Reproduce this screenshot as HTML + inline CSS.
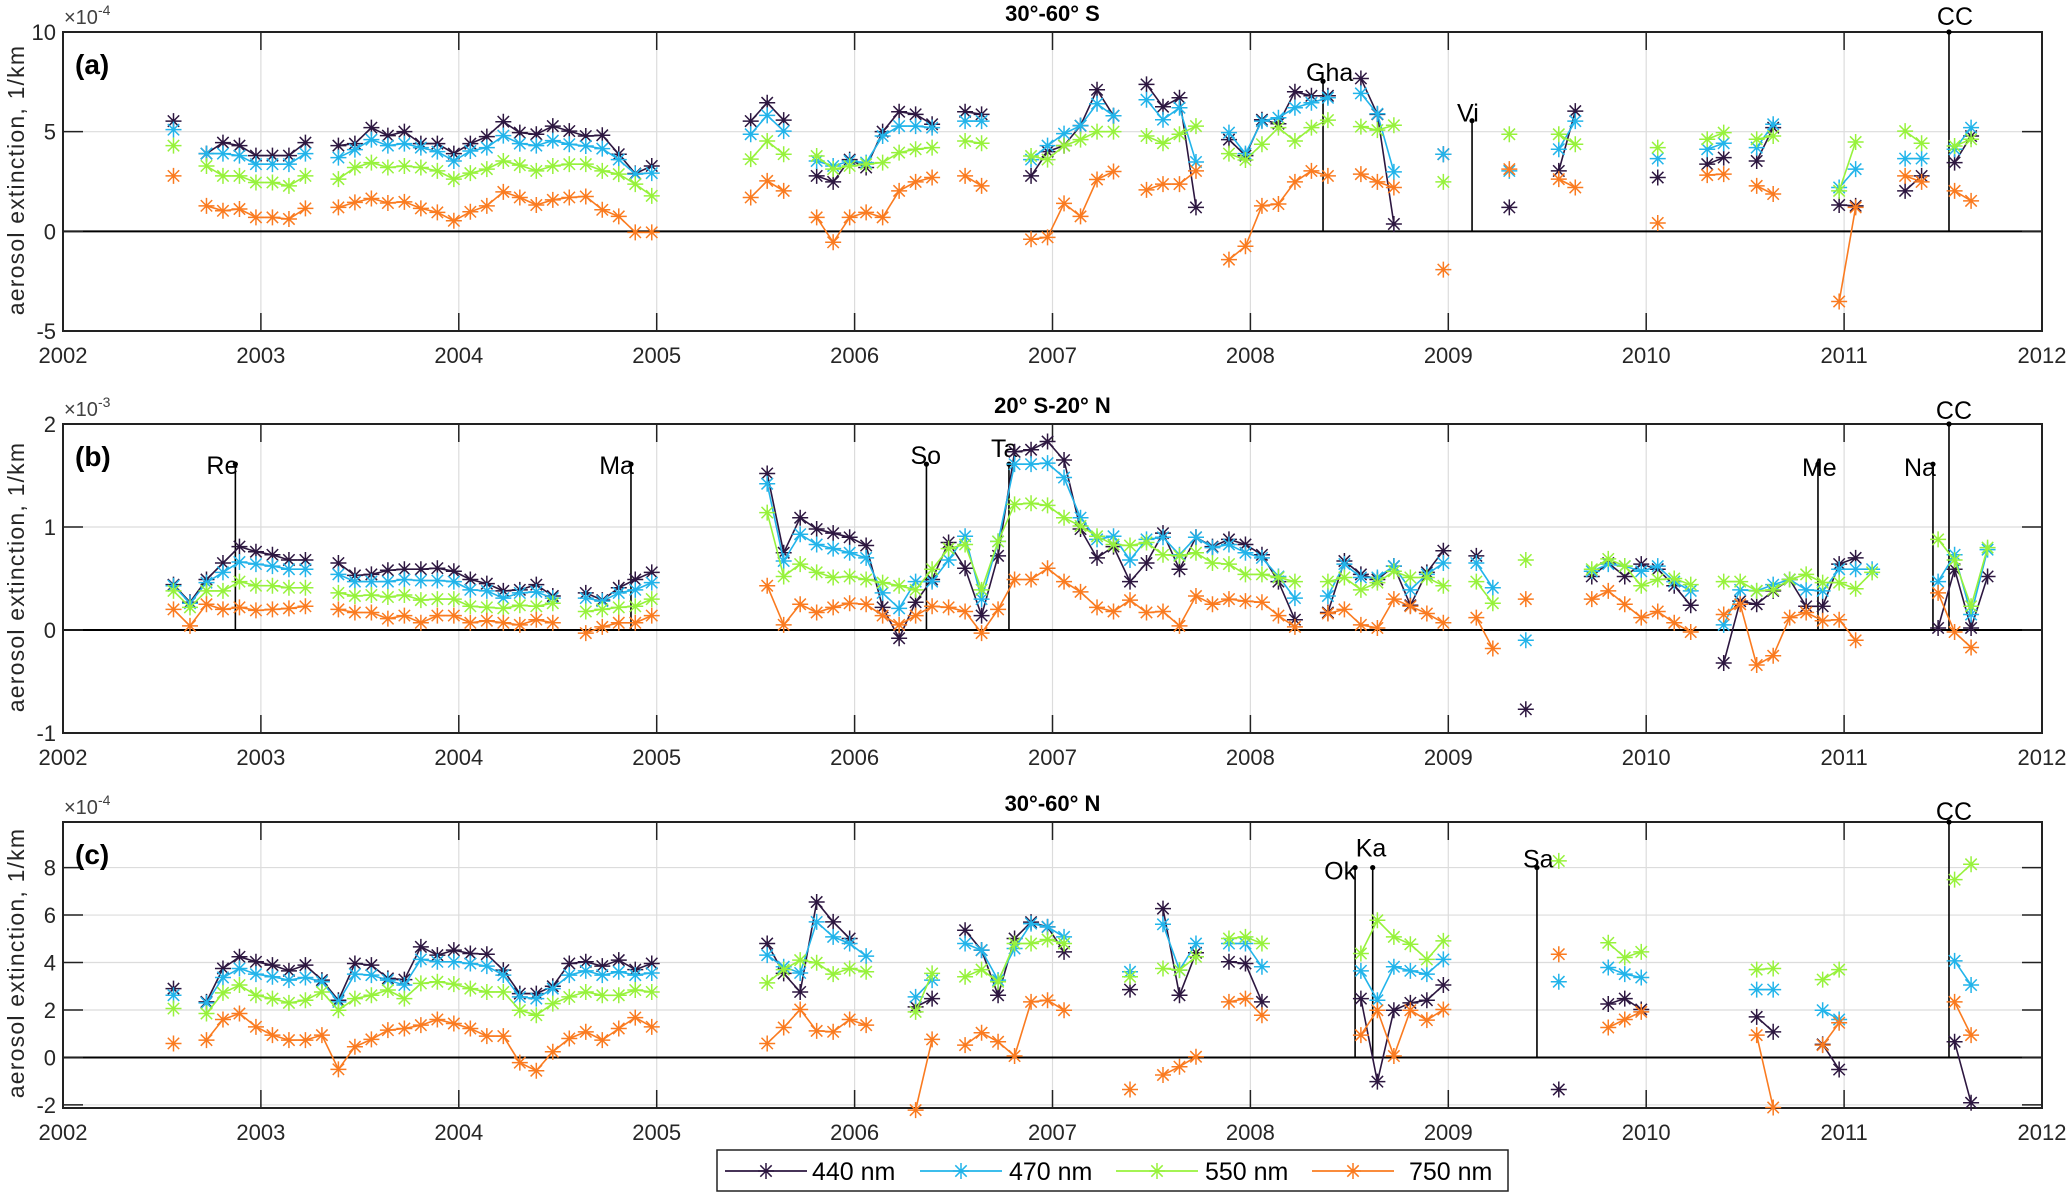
<!DOCTYPE html>
<html><head><meta charset="utf-8"><style>
html,body{margin:0;padding:0;background:#fff;}
svg{display:block;font-family:"Liberation Sans",Arial,sans-serif;}
</style></head><body>
<svg id="chart" xmlns="http://www.w3.org/2000/svg" width="2067" height="1192" viewBox="0 0 2067 1192">
<rect x="0" y="0" width="2067" height="1192" fill="#fff"/>
</svg>
<script>
// ---------- DATA ----------
const seriesNames = ["440 nm","470 nm","550 nm","750 nm"];
// month index k counted from Jan 2002 (k=0)
const monthsA = [6,8,9,10,11,12,13,14,16,17,18,19,20,21,22,23,24,25,26,27,28,29,30,31,32,33,34,35,41,42,43,45,46,47,48,49,50,51,52,54,55,58,59,60,61,62,63,65,66,67,68,70,71,72,73,74,75,76,78,79,80,83,87,90,91,96,99,100,102,103,107,108,111,112,114,115];
const a440 = [5.53,3.9,4.45,4.3,3.8,3.8,3.8,4.45,4.3,4.4,5.2,4.8,5.0,4.4,4.4,3.9,4.4,4.75,5.5,4.95,4.87,5.28,5.03,4.78,4.82,3.87,2.9,3.28,5.53,6.45,5.58,2.78,2.48,3.6,3.2,5.0,6.0,5.87,5.37,6.0,5.87,2.78,4.0,4.3,5.3,7.1,5.8,7.37,6.25,6.7,1.2,4.6,3.8,5.6,5.4,7.0,6.8,6.8,7.67,5.87,0.37,3.87,1.2,3.03,6.03,2.7,3.37,3.7,3.53,5.2,1.32,1.28,2.03,2.78,3.45,4.78];
const a470 = [5.1,3.9,3.9,3.8,3.37,3.37,3.37,3.9,3.7,4.1,4.6,4.3,4.4,4.2,4.0,3.53,4.03,4.2,4.8,4.4,4.3,4.55,4.37,4.28,4.15,3.6,2.87,2.92,4.87,5.82,5.03,3.53,3.28,3.53,3.45,4.78,5.28,5.28,5.2,5.53,5.53,3.6,4.3,4.9,5.3,6.4,5.8,6.6,5.6,6.2,3.48,4.95,3.9,5.53,5.7,6.2,6.45,6.7,6.92,5.9,2.98,3.87,3.03,4.12,5.53,3.65,4.12,4.42,4.2,5.37,2.2,3.12,3.65,3.65,4.12,5.2];
const a550 = [4.3,3.28,2.78,2.78,2.45,2.45,2.28,2.78,2.62,3.2,3.45,3.2,3.28,3.2,3.03,2.62,2.92,3.12,3.53,3.32,3.03,3.28,3.37,3.37,3.03,2.87,2.37,1.78,3.62,4.53,3.87,3.78,3.12,3.28,3.37,3.45,3.95,4.12,4.2,4.53,4.42,3.78,3.6,4.3,4.6,5.0,5.0,4.78,4.42,4.87,5.28,3.9,3.58,4.37,5.2,4.53,5.2,5.58,5.25,5.08,5.32,2.48,4.87,4.87,4.37,4.2,4.62,4.95,4.62,4.78,2.03,4.48,5.03,4.42,4.28,4.62];
const a750 = [2.78,1.28,1.03,1.12,0.7,0.7,0.62,1.15,1.2,1.45,1.65,1.42,1.48,1.15,0.95,0.53,0.98,1.28,1.98,1.7,1.32,1.58,1.7,1.75,1.08,0.75,-0.05,-0.05,1.7,2.53,2.03,0.7,-0.55,0.7,0.95,0.7,2.03,2.48,2.7,2.78,2.28,-0.4,-0.3,1.4,0.75,2.6,3.0,2.08,2.37,2.37,3.03,-1.42,-0.75,1.28,1.37,2.48,3.03,2.78,2.87,2.48,2.2,-1.92,3.12,2.62,2.2,0.42,2.82,2.87,2.28,1.87,-3.52,1.2,2.78,2.48,2.03,1.53];

const monthsB = [6,7,8,9,10,11,12,13,14,16,17,18,19,20,21,22,23,24,25,26,27,28,29,31,32,33,34,35,42,43,44,45,46,47,48,49,50,51,52,53,54,55,56,57,58,59,60,61,62,63,64,65,66,67,68,69,70,71,72,73,74,76,77,78,79,80,81,82,83,85,86,88,92,93,94,95,96,97,98,100,101,102,103,104,105,106,107,108,109,113,114,115,116];
const b440 = [.44,.27,.49,.65,.81,.76,.73,.68,.68,.65,.53,.54,.58,.59,.59,.6,.57,.49,.45,.38,.39,.44,.33,.36,.29,.41,.49,.56,1.52,.75,1.09,.98,.94,.9,.82,.22,-.08,.27,.49,.85,.6,.14,.72,1.73,1.75,1.83,1.65,.98,.7,.81,.47,.65,.94,.59,.9,.81,.88,.83,.73,.47,.1,.17,.67,.54,.49,.62,.24,.56,.77,.72,null,-.77,.52,.65,.52,.64,.59,.43,.24,-.32,.28,.25,.38,.49,.23,.23,.64,.7,null,.02,.59,.02,.52];
const b470 = [.43,.26,.46,.56,.66,.64,.62,.59,.59,.54,.47,.47,.47,.49,.48,.48,.47,.39,.38,.31,.36,.37,.31,.31,.28,.36,.39,.46,1.42,.67,.93,.83,.79,.75,.7,.36,.21,.47,.47,.68,.91,.3,.86,1.61,1.61,1.62,1.48,1.09,.88,.91,.68,.88,.9,.73,.9,.8,.83,.75,.7,.52,.31,.33,.64,.51,.51,.62,.39,.54,.65,.65,.41,-.1,.57,.64,.62,.57,.62,.47,.38,.05,.39,.38,.44,.49,.39,.38,.59,.59,.59,.47,.73,.15,.78];
const b550 = [.38,.22,.38,.38,.47,.43,.43,.41,.41,.36,.33,.34,.32,.34,.29,.3,.3,.23,.22,.21,.24,.23,.26,.18,.2,.22,.23,.3,1.14,.52,.64,.56,.51,.52,.49,.46,.43,.39,.59,.79,.83,.39,.86,1.22,1.23,1.21,1.09,1.01,.91,.83,.82,.85,.73,.72,.75,.65,.64,.54,.54,.51,.47,.47,.51,.39,.46,.57,.51,.51,.43,.47,.26,.68,.59,.69,.62,.43,.49,.5,.44,.47,.47,.38,.39,.49,.54,.46,.46,.4,.56,.88,.68,.23,.8];
const b750 = [.2,.04,.25,.2,.22,.19,.2,.21,.23,.2,.17,.17,.11,.14,.07,.14,.14,.07,.09,.07,.05,.1,.07,-.03,.03,.07,.07,.14,.43,.05,.25,.17,.22,.26,.25,.14,.05,.14,.23,.22,.18,-.03,.2,.49,.49,.6,.47,.37,.22,.18,.29,.17,.18,.04,.33,.25,.3,.28,.27,.14,.03,.16,.2,.05,.02,.3,.23,.16,.07,.12,-.18,.3,.3,.38,.25,.12,.18,.07,-.02,.15,.25,-.34,-.25,.12,.17,.09,.1,-.1,null,.36,-.02,-.17,null];

const monthsC = [6,8,9,10,11,12,13,14,15,16,17,18,19,20,21,22,23,24,25,26,27,28,29,30,31,32,33,34,35,42,43,44,45,46,47,48,51,52,54,55,56,57,58,59,60,64,66,67,68,70,71,72,78,79,80,81,82,83,90,93,94,95,102,103,106,107,114,115];
const c440 = [2.9,2.34,3.75,4.24,4.03,3.89,3.65,3.89,3.26,2.41,3.96,3.89,3.33,3.28,4.66,4.31,4.52,4.38,4.35,3.68,2.69,2.69,3.0,3.96,4.03,3.85,4.1,3.7,3.96,4.8,3.54,2.76,6.55,5.71,5.01,null,2.13,2.48,5.36,4.52,2.62,5.01,5.7,5.5,4.45,2.86,6.27,2.62,4.41,4.03,3.96,2.34,2.48,-1.02,1.99,2.3,2.41,3.05,-1.35,2.25,2.48,2.02,1.71,1.08,0.55,-0.51,0.66,-1.91];
const c470 = [2.62,2.3,3.37,3.75,3.51,3.4,3.26,3.37,3.19,2.34,3.51,3.47,3.26,3.05,4.13,4.03,4.03,3.96,3.85,3.47,2.55,2.48,2.9,3.47,3.65,3.47,3.61,3.47,3.56,4.31,3.82,3.56,5.71,5.08,4.8,4.27,2.55,3.26,4.8,4.52,3.26,4.59,5.64,5.5,5.08,3.61,5.61,3.68,4.8,4.8,4.8,3.82,3.65,2.41,3.82,3.65,3.51,4.13,3.19,3.79,3.51,3.37,2.86,2.86,1.99,1.6,4.07,3.05];
const c550 = [2.06,1.85,2.72,3.05,2.62,2.48,2.3,2.41,2.76,1.99,2.48,2.62,2.84,2.48,3.12,3.19,3.09,2.9,2.76,2.76,1.99,1.78,2.27,2.55,2.76,2.62,2.62,2.84,2.76,3.14,3.7,4.1,3.99,3.51,3.75,3.61,1.92,3.54,3.4,3.7,3.19,4.8,4.8,4.97,4.8,3.4,3.75,3.68,4.24,5.01,5.08,4.8,4.38,5.78,5.08,4.77,4.13,4.91,8.28,4.83,4.21,4.45,3.7,3.75,3.28,3.7,7.49,8.14];
const c750 = [0.59,0.73,1.6,1.85,1.29,0.94,0.73,0.73,0.94,-0.5,0.45,0.76,1.15,1.22,1.36,1.6,1.43,1.22,0.9,0.9,-0.22,-0.56,0.24,0.8,1.08,0.73,1.22,1.68,1.29,0.59,1.26,2.02,1.12,1.08,1.6,1.36,-2.22,0.76,0.52,1.04,0.66,0.06,2.34,2.41,1.99,-1.35,-0.74,-0.39,0.03,2.34,2.48,1.78,0.94,1.99,0.06,1.99,1.57,2.02,4.35,1.26,1.6,1.92,0.94,-2.11,0.52,1.46,2.34,0.94];

const xTickLabels = ["2002","2003","2004","2005","2006","2007","2008","2009","2010","2011","2012"];
const yTicksA = [-5,0,5,10];
const yTicksB = [-1,0,1,2];
const yTicksC = [-2,0,2,4,6,8];

const eventNamesA = ["Gha","Vi","CC"];
const eventYearsA = [2008.367,2009.12,2011.53];
const eventTopsA = [7.53,5.55,10];
const eventNamesB = ["Re","Ma","So","Ta","Me","Na","CC"];
const eventYearsB = [2002.871,2004.87,2006.363,2006.78,2010.868,2011.449,2011.53];
const eventTopsB = [1.61,1.61,1.61,1.61,1.61,1.61,2];
const eventNamesC = ["Ok","Ka","Sa","CC"];
const eventYearsC = [2008.529,2008.618,2009.448,2011.53];
const eventTopsC = [8,8,8,9.92];

// ---------- STYLE / LAYOUT ----------
const colors = ["#2d1740","#22b4ea","#97f23c","#fa7b20"];
const NS = "http://www.w3.org/2000/svg";
const svg = document.getElementById("chart");
const L = 63, R = 2042;
function xScale(year){ return L + (year-2002)*(R-L)/10; }
function monthToYear(k){ return 2002 + (k+0.7)/12; }

function el(tag, attrs, parent){
  const e = document.createElementNS(NS, tag);
  for (const k in attrs) e.setAttribute(k, attrs[k]);
  (parent||svg).appendChild(e);
  return e;
}
function asterisk(g, x, y, color){
  const r = 8, d = 5.7;
  const p = `M${x},${y-r}L${x},${y+r}M${x-r},${y}L${x+r},${y}M${x-d},${y-d}L${x+d},${y+d}M${x-d},${y+d}L${x+d},${y-d}`;
  const m = el("path", {d:p, stroke:color, "stroke-width":1.5, fill:"none"}, g);
  
  
}

const panels = [
  {id:"a", T:32, B:331, ymin:-5, ymax:10, ticks:yTicksA, title:"30°-60° S", exp:"-4",
   months:monthsA, vals:[a440,a470,a550,a750], en:eventNamesA, ey:eventYearsA, et:eventTopsA,
   lab:[{a:"start",dx:-17,dy:0},{a:"start",dx:-15,dy:1},{a:"middle",dx:6,dy:-7}], yl:180},
  {id:"b", T:424, B:733, ymin:-1, ymax:2, ticks:yTicksB, title:"20° S-20° N", exp:"-3",
   months:monthsB, vals:[b440,b470,b550,b750], en:eventNamesB, ey:eventYearsB, et:eventTopsB,
   lab:[{a:"end",dx:3,dy:10},{a:"end",dx:3,dy:10},{a:"start",dx:-16,dy:0},{a:"start",dx:-18,dy:-7},{a:"start",dx:-16,dy:12},{a:"end",dx:3,dy:12},{a:"middle",dx:5,dy:-5}], yl:577},
  {id:"c", T:822, B:1108, ymin:-2.13, ymax:9.92, ticks:yTicksC, title:"30°-60° N", exp:"-4",
   months:monthsC, vals:[c440,c470,c550,c750], en:eventNamesC, ey:eventYearsC, et:eventTopsC,
   lab:[{a:"end",dx:1,dy:12},{a:"start",dx:-17,dy:-11},{a:"start",dx:-14,dy:0},{a:"middle",dx:5,dy:-2}], yl:963}
];

panels.forEach(P => {
  const yScale = v => P.B - (v-P.ymin)*(P.B-P.T)/(P.ymax-P.ymin);
  const g = el("g", {});
  
  

  // grid
  for (let i=1;i<10;i++){
    const x = xScale(2002+i);
    const gl = el("line",{x1:x,x2:x,y1:P.T,y2:P.B,stroke:"#dcdcdc","stroke-width":1.2},g);
    
    
  }
  P.ticks.forEach(t => {
    const y = yScale(t);
    if (t!==0 && y>P.T+1 && y<P.B-1){
      const gl = el("line",{x1:L,x2:R,y1:y,y2:y,stroke:"#dcdcdc","stroke-width":1.2},g);
      
      
    }
  });
  // zero line
  const z = el("line",{x1:L,x2:R,y1:yScale(0),y2:yScale(0),stroke:"#000","stroke-width":2},g);
  
  

  // ticks
  for (let i=0;i<=10;i++){
    const x = xScale(2002+i);
    const t1 = el("path",{d:`M${x},${P.T}L${x},${P.T+18}M${x},${P.B}L${x},${P.B-18}`,stroke:"#222","stroke-width":1.5},g);
    
    
    const tl = el("text",{x:x,y:P.B+32,"text-anchor":"middle","font-size":22,fill:"#262626"},g);
    tl.textContent = xTickLabels[i];
    
    
  }
  P.ticks.forEach(t => {
    const y = yScale(t);
    const t1 = el("path",{d:`M${L},${y}L${L+20},${y}M${R},${y}L${R-20},${y}`,stroke:"#222","stroke-width":1.5},g);
    
    
    const tl = el("text",{x:L-7,y:y+8,"text-anchor":"end","font-size":22,fill:"#262626"},g);
    tl.textContent = String(t);
    
    
  });
  // frame
  const fr = el("rect",{x:L,y:P.T,width:R-L,height:P.B-P.T,fill:"none",stroke:"#222","stroke-width":2},g);
  
  

  // exponent
  const ex = el("text",{x:L+1,y:P.T-8,"font-size":20,fill:"#404040"},g);
  
  
  ex.appendChild(document.createTextNode("×10"));
  const sup = el("tspan",{dy:-9,"font-size":14},ex);
  sup.textContent = P.exp;

  // title
  const ti = el("text",{x:(L+R)/2,y:P.T-11,"text-anchor":"middle","font-size":22,"font-weight":"bold",fill:"#000"},g);
  ti.textContent = P.title;
  
  
  // panel letter
  const pl = el("text",{x:75,y:P.T+42,"font-size":28,"font-weight":"bold",fill:"#000"},g);
  pl.textContent = "(" + P.id + ")";
  
  
  // y axis label
  const yl = el("text",{x:0,y:0,"text-anchor":"middle","font-size":23,"letter-spacing":"1.2",fill:"#262626",transform:`translate(24,${P.yl}) rotate(-90)`},g);
  yl.textContent = "aerosol extinction, 1/km";
  
  

  // events
  P.en.forEach((name,i) => {
    const x = xScale(P.ey[i]);
    const yt = yScale(P.et[i]);
    const ln = el("line",{x1:x,x2:x,y1:yScale(0),y2:yt,stroke:"#000","stroke-width":1.6},g);
    
    
    const dot = el("circle",{cx:x,cy:yt,r:2.6,fill:"#000"},g);
    
    
    const lb = P.lab[i];
    const tx = el("text",{x:x+lb.dx,y:yt+lb.dy,"text-anchor":lb.a,"font-size":25,fill:"#000"},g);
    tx.textContent = name;
    
    
  });

  // series
  P.vals.forEach((vals,s) => {
    const sg = el("g",{},g);
    
    
    let d = "";
    for (let i=0;i<vals.length;i++){
      if (vals[i]===null) continue;
      const x = xScale(monthToYear(P.months[i])), y = yScale(vals[i]);
      const connect = i>0 && vals[i-1]!==null && P.months[i]-P.months[i-1]===1;
      d += (connect?"L":"M") + x.toFixed(1) + "," + y.toFixed(1);
    }
    const pth = el("path",{d:d,stroke:colors[s],"stroke-width":1.6,fill:"none"},sg);
    
    
    for (let i=0;i<vals.length;i++){
      if (vals[i]===null) continue;
      asterisk(sg, xScale(monthToYear(P.months[i])), yScale(vals[i]), colors[s]);
    }
  });
});

// legend
const lg = el("g",{});


const lbox = el("rect",{x:717,y:1150,width:791,height:41,fill:"#fff",stroke:"#222","stroke-width":1.5},lg);


const legLineX = [725,920,1116,1312];
const legTextX = [812,1009,1205,1409];
seriesNames.forEach((n,s) => {
  const eg = el("g",{},lg);
  
  
  const ly = 1171;
  const ln = el("line",{x1:legLineX[s],x2:legLineX[s]+82,y1:ly,y2:ly,stroke:colors[s],"stroke-width":1.8},eg);
  
  
  asterisk(eg, legLineX[s]+41, ly, colors[s]);
  const t = el("text",{x:legTextX[s],y:ly+9,"font-size":25,fill:"#000"},eg);
  t.textContent = n;
  
  
});
</script>
</body></html>
